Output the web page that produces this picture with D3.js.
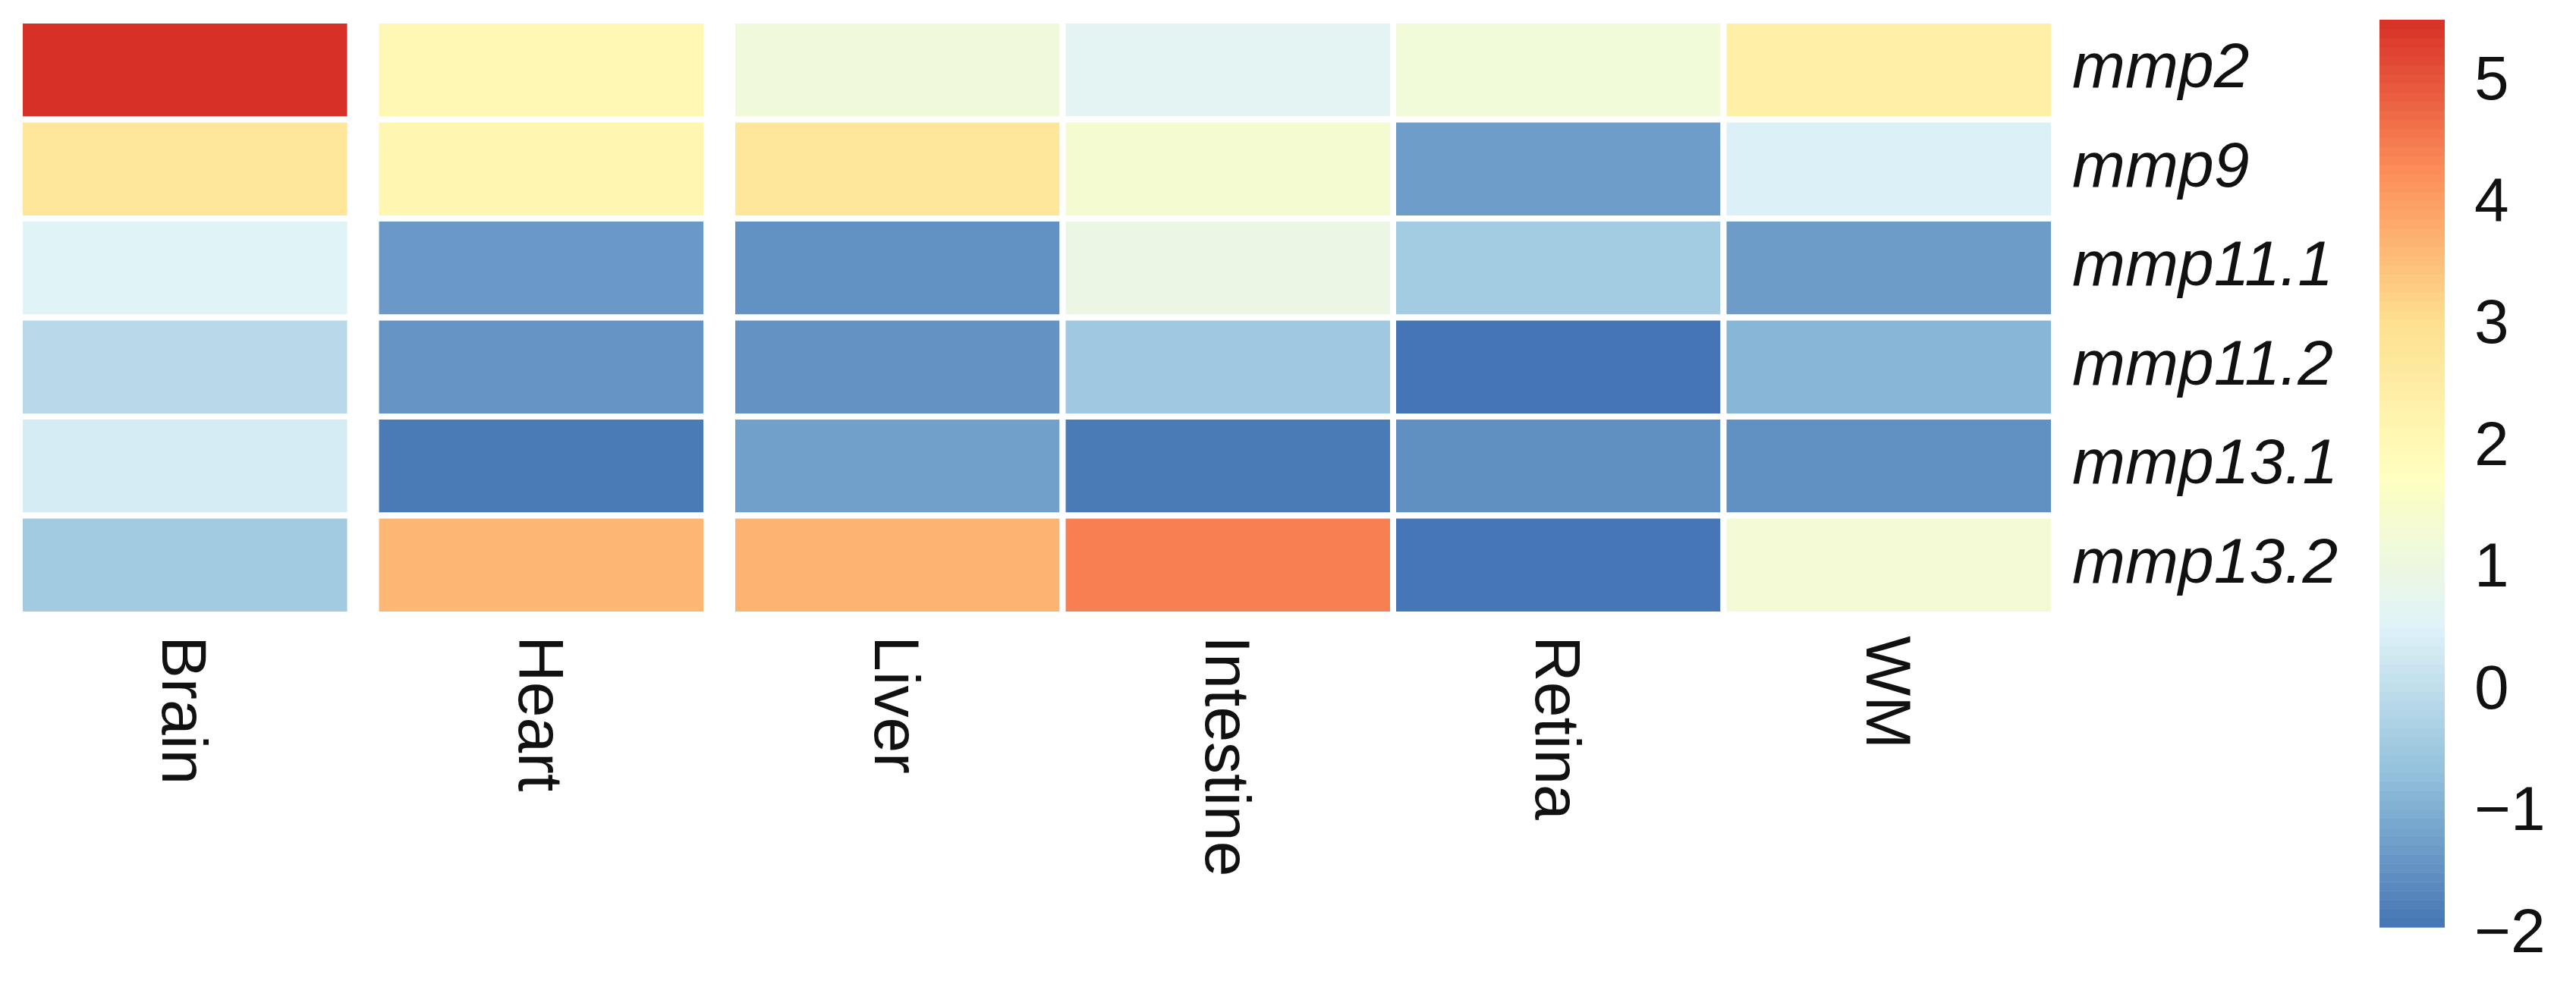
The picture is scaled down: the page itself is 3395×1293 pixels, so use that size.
<!DOCTYPE html>
<html>
<head>
<meta charset="utf-8">
<script src="https://cdn.jsdelivr.net/npm/d3@7"></script>
<style>
  html, body { margin: 0; padding: 0; background: #ffffff; }
  svg { display: block; }
  text { font-family: "Liberation Sans", Arial, sans-serif; fill: #111111; }
</style>
</head>
<body>
<svg id="chart" width="3395" height="1293"></svg>
<script>
// ---- data ----
const tissues = ["Brain", "Heart", "Liver", "Intestine", "Retina", "WM"];
const tissueGroup = [0, 1, 2, 2, 2, 2];
const genes = ["mmp2", "mmp9", "mmp11.1", "mmp11.2", "mmp13.1", "mmp13.2"];
const mmp2   = [5.47, 2.03, 1.15, 0.63, 1.18, 2.35];
const mmp9   = [2.70, 2.10, 2.70, 1.35, -1.31, 0.44];
const mmp11_1 = [0.52, -1.37, -1.51, 0.94, -0.45, -1.33];
const mmp11_2 = [-0.11, -1.44, -1.49, -0.50, -1.98, -0.89];
const mmp13_1 = [0.34, -1.88, -1.26, -1.88, -1.54, -1.53];
const mmp13_2 = [-0.47, 3.60, 3.66, 4.41, -1.96, 1.26];
const legendTicks = [5, 4, 3, 2, 1, 0, -1, -2];
const paletteStops = ["#4575B4", "#91BFDB", "#E0F3F8", "#FFFFBF", "#FEE090", "#FC8D59", "#D73027"];

const rows = [mmp2, mmp9, mmp11_1, mmp11_2, mmp13_1, mmp13_2];
const cells = [];
rows.forEach((vals, r) => vals.forEach((v, c) => cells.push({gene: genes[r], tissue: tissues[c], col: c, value: v})));

// ---- scales ----
const svg = d3.select("#chart");
const cellW = 435.5, gapW = 34, x0 = 26;
const xBand = d3.scaleBand().domain(tissues).range([x0, x0 + cellW * tissues.length]).paddingInner(0).paddingOuter(0);
const xPos = (t) => xBand(t) + tissueGroup[tissues.indexOf(t)] * gapW;
const y = d3.scaleBand().domain(genes).range([27, 810]);

const vmin = d3.min(cells, d => d.value), vmax = d3.max(cells, d => d.value);
const stopDomain = paletteStops.map((_, i) => vmin + (vmax - vmin) * i / (paletteStops.length - 1));
const color = d3.scaleLinear().domain(stopDomain).range(paletteStops).interpolate(d3.interpolateRgb).clamp(true);

// ---- cells ----
svg.append("g").selectAll("rect").data(cells).join("rect")
  .attr("x", d => xPos(d.tissue))
  .attr("y", d => y(d.gene))
  .attr("width", xBand.bandwidth())
  .attr("height", y.bandwidth())
  .attr("fill", d => color(d.value))
  .attr("stroke", "#ffffff")
  .attr("stroke-width", 8);

// ---- row labels ----
const rightEdge = xPos(tissues[tissues.length - 1]) + xBand.bandwidth();
svg.append("g").selectAll("text").data(genes).join("text")
  .attr("x", rightEdge + 24)
  .attr("y", d => y(d) + y.bandwidth() / 2 + 23)
  .attr("font-size", 84)
  .attr("font-style", "italic")
  .text(d => d);

// ---- column labels ----
svg.append("g").selectAll("text").data(tissues).join("text")
  .attr("transform", d => `translate(${xPos(d) + xBand.bandwidth() / 2},${y.range()[1] + 28}) rotate(90)`)
  .attr("dy", "0.35em")
  .attr("font-size", 84)
  .text(d => d);

// ---- colour legend ----
const lgX = 3136, lgW = 86, lgTop = 26, lgBottom = 1222;
const ly = d3.scaleLinear().domain([vmin, vmax]).range([lgBottom, lgTop]);
const nSteps = 100;
const steps = d3.range(nSteps).map(i => vmin + (vmax - vmin) * i / nSteps);
const stepH = (vmax - vmin) / nSteps;
svg.append("g").selectAll("rect").data(steps).join("rect")
  .attr("x", lgX)
  .attr("y", d => ly(d + stepH))
  .attr("width", lgW)
  .attr("height", d => ly(d) - ly(d + stepH) + 0.6)
  .attr("fill", d => color(d + stepH / 2));

svg.append("g").selectAll("text").data(legendTicks).join("text")
  .attr("x", 3261)
  .attr("y", d => ly(d))
  .attr("dy", "0.36em")
  .attr("font-size", 82)
  .text(d => d3.format("d")(d).replace("-", "\u2212"));
</script>
</body>
</html>
